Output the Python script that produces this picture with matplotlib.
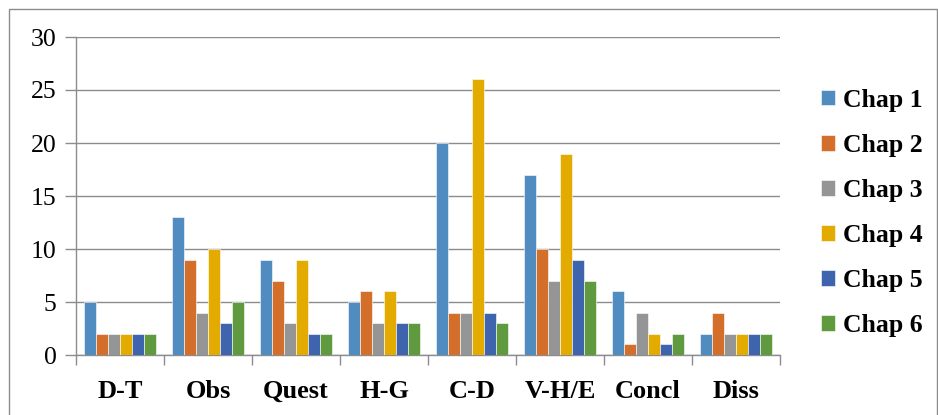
import matplotlib
matplotlib.use("Agg")
import matplotlib.pyplot as plt
import numpy as np
from matplotlib.patches import Rectangle

categories = ["D-T", "Obs", "Quest", "H-G", "C-D", "V-H/E", "Concl", "Diss"]
series_names = ["Chap 1", "Chap 2", "Chap 3", "Chap 4", "Chap 5", "Chap 6"]
chap1 = [5, 13, 9, 5, 20, 17, 6, 2]
chap2 = [2, 9, 7, 6, 4, 10, 1, 4]
chap3 = [2, 4, 3, 3, 4, 7, 4, 2]
chap4 = [2, 10, 9, 6, 26, 19, 2, 2]
chap5 = [2, 3, 2, 3, 4, 9, 1, 2]
chap6 = [2, 5, 2, 3, 3, 7, 2, 2]
series = [chap1, chap2, chap3, chap4, chap5, chap6]
colors = ["#508CC0", "#D46E2B", "#959595", "#E3AA00", "#3E64AE", "#609A3E"]
yticks = [0, 5, 10, 15, 20, 25, 30]

plt.rcParams['font.family'] = ['Liberation Serif', 'DejaVu Serif']

fig = plt.figure(figsize=(9.38, 4.15), dpi=100)
ax = fig.add_axes([76/938, 60/415, (780-76)/938, (355-37)/415])

n = len(series)
x = np.arange(len(categories))
group_w = 0.81
bw = group_w / n
for i, (vals, c, name) in enumerate(zip(series, colors, series_names)):
    ax.bar(x - group_w/2 + bw*(i+0.5), vals, width=bw, color=c, label=name,
           edgecolor='white', linewidth=0.4, zorder=3)

ax.set_xlim(-0.5, len(categories)-0.5)
ax.set_ylim(0, 30)
ax.set_yticks(yticks)
ax.set_yticklabels([str(t) for t in yticks], fontsize=18.5)
ax.yaxis.grid(True, color='#8c8c8c', linewidth=1.0, zorder=0)
ax.set_axisbelow(True)

ax.set_xticks(x)
ax.set_xticklabels(categories, fontsize=19, fontweight='bold')
ax.tick_params(axis='x', length=0, pad=18)
ax.set_xticks(np.arange(len(categories)+1) - 0.5, minor=True)
ax.tick_params(axis='x', which='minor', length=7, color='#8c8c8c', width=1)
ax.tick_params(axis='y', length=8, color='#8c8c8c', width=1, pad=6)

for s in ['top', 'right']:
    ax.spines[s].set_visible(False)
for s in ['left', 'bottom']:
    ax.spines[s].set_color('#8c8c8c')
    ax.spines[s].set_linewidth(1)

leg = fig.legend(loc='center left', bbox_to_anchor=(813/938, 1 - 213/415),
                 frameon=False, prop={'size': 18.5, 'weight': 'bold'},
                 handlelength=0.55, handleheight=0.55, handletextpad=0.3,
                 labelspacing=0.86, borderaxespad=0, borderpad=0.3)

fig.patches.append(Rectangle((9/938, -0.02), (937-9)/938, 1 - 9/415 + 0.02,
                             transform=fig.transFigure, fill=False,
                             edgecolor='#8c8c8c', linewidth=1))

fig.savefig("out.png", dpi=100)
